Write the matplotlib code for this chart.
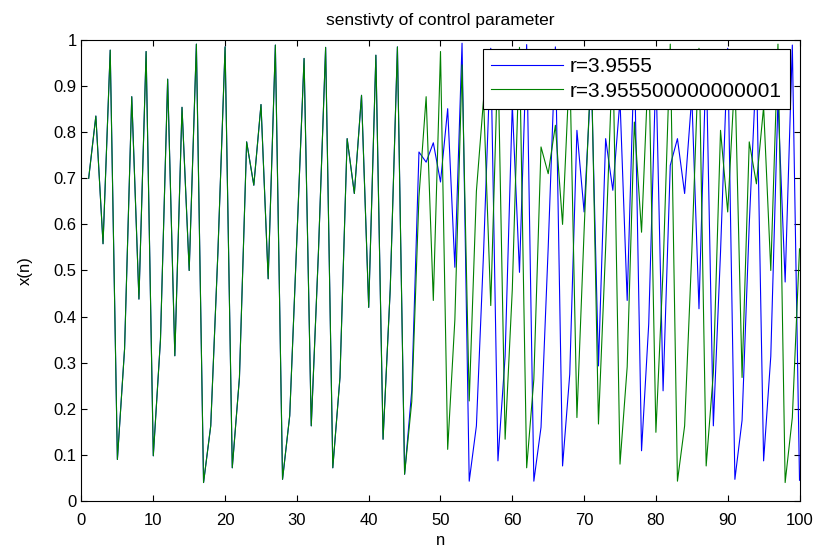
import matplotlib
matplotlib.use("Agg")
import matplotlib.pyplot as plt

plt.rcParams['font.family'] = ['Liberation Sans', 'DejaVu Sans']

# iterations 1..45 are the same for both runs
common = [0.70, 0.835, 0.558, 0.978, 0.09, 0.33, 0.877, 0.438, 0.975, 0.098,
          0.35, 0.915, 0.315, 0.854, 0.50, 0.991, 0.04, 0.163, 0.54, 0.985,
          0.072, 0.268, 0.779, 0.685, 0.86, 0.482, 0.989, 0.047, 0.185, 0.57,
          0.96, 0.163, 0.54, 0.984, 0.072, 0.268, 0.786, 0.667, 0.88, 0.42,
          0.967, 0.134, 0.46, 0.985, 0.058]

blue_tail = [0.24, 0.757, 0.735, 0.777, 0.692, 0.851, 0.507, 0.993, 0.043, 0.163,
             0.54, 0.982, 0.087, 0.314, 0.86, 0.496, 0.99, 0.043, 0.16, 0.55,
             0.985, 0.076, 0.275, 0.804, 0.627, 0.925, 0.293, 0.786, 0.674, 0.87,
             0.435, 0.972, 0.109, 0.384, 0.936, 0.239, 0.728, 0.786, 0.667, 0.878,
             0.417, 0.962, 0.163, 0.54, 0.982, 0.047, 0.175, 0.6, 0.95, 0.087,
             0.314, 0.87, 0.475, 0.989, 0.045]

green_tail = [0.216, 0.66, 0.877, 0.435, 0.975, 0.112, 0.393, 0.946, 0.217, 0.672,
              0.872, 0.424, 0.966, 0.134, 0.459, 0.984, 0.072, 0.264, 0.768, 0.71,
              0.815, 0.60, 0.949, 0.181, 0.586, 0.96, 0.167, 0.55, 0.979, 0.08,
              0.291, 0.822, 0.583, 0.962, 0.149, 0.502, 0.991, 0.043, 0.163, 0.54,
              0.982, 0.076, 0.278, 0.804, 0.627, 0.925, 0.268, 0.779, 0.688, 0.855,
              0.5, 0.991, 0.04, 0.181, 0.547]

x1 = common + blue_tail
x2 = common + green_tail
n = list(range(1, len(x1) + 1))

labels = ['r=3.9555', 'r=3.955500000000001']

fig = plt.figure(figsize=(8.19, 5.47), dpi=100)
ax = fig.add_axes([0.0995, 0.0841, 0.8767, 0.8428])

ax.plot(n, x1, color=(0, 0, 1), lw=0.8, label=labels[0])
ax.plot(n, x2, color=(0, 0.5, 0), lw=0.8, label=labels[1])

ax.set_xlim(0, 100)
ax.set_ylim(0, 1)
ax.set_xticks(range(0, 101, 10))
ax.set_yticks([i / 10 for i in range(11)])
ax.set_yticklabels(['0', '0.1', '0.2', '0.3', '0.4', '0.5', '0.6', '0.7', '0.8', '0.9', '1'])
ax.tick_params(direction='in', top=True, right=True, labelsize=12, length=4, width=0.8)
ax.tick_params(axis='x', pad=9)
for s in ax.spines.values():
    s.set_linewidth(0.8)

ax.set_title('senstivty of control parameter', fontsize=12.5, pad=11)
ax.set_xlabel('n', fontsize=12, labelpad=3)
ax.set_ylabel('x(n)', fontsize=12, labelpad=15)

leg = ax.legend(loc='upper right', bbox_to_anchor=(0.9868, 0.9805), fontsize=15,
                fancybox=False, framealpha=1, edgecolor='black',
                handlelength=3.45, handletextpad=0.35, borderaxespad=0,
                borderpad=0.38, labelspacing=0.28)
leg.get_frame().set_linewidth(0.8)

fig.savefig('out.png', dpi=100)
